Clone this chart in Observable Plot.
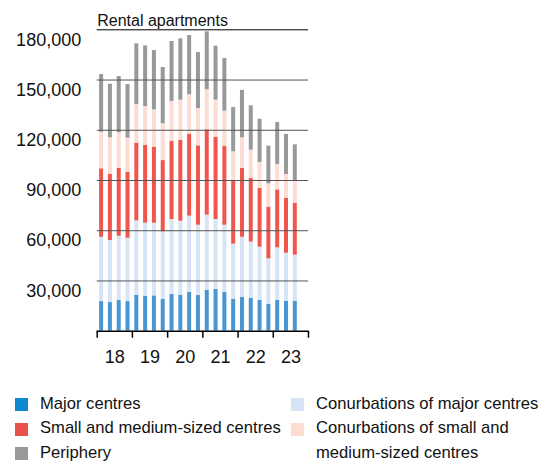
<!DOCTYPE html>
<html><head><meta charset="utf-8">
<script src="https://cdn.jsdelivr.net/npm/d3@7"></script>
<script src="https://cdn.jsdelivr.net/npm/@observablehq/plot@0.6"></script>
<style>
body{margin:0;background:#fff;font-family:"Liberation Sans",Arial,sans-serif;}
#wrap{position:relative;width:546px;height:464px;overflow:hidden;}
#legend{position:absolute;left:0;top:391.5px;width:546px;height:72px;font-size:16.6px;color:#111;}
.item{position:absolute;display:flex;align-items:flex-start;line-height:24.7px;white-space:nowrap;}
.sw{width:13px;height:13px;margin-top:6.5px;flex:none;}
.lbl{margin-left:12px;}
</style></head><body><div id="wrap"><div id="chart"></div><div id="legend"></div></div>
<script>
const quarters = ["2018 Q1","2018 Q2","2018 Q3","2018 Q4","2019 Q1","2019 Q2","2019 Q3","2019 Q4","2020 Q1","2020 Q2","2020 Q3","2020 Q4","2021 Q1","2021 Q2","2021 Q3","2021 Q4","2022 Q1","2022 Q2","2022 Q3","2022 Q4","2023 Q1","2023 Q2","2023 Q3"];
const seriesNames = ["Major centres","Conurbations of major centres","Small and medium-sized centres","Conurbations of small and medium-sized centres","Periphery"];
const majorCentres = [17700,17100,18300,17700,21500,20700,21100,19100,21900,21500,23300,21300,24500,24900,23100,19100,20300,19700,18500,16100,18500,17900,17900];
const conurbMajor = [38400,37100,38400,37800,44400,43800,43400,40300,44800,44200,45400,42000,44800,41800,40200,32900,35800,33500,31700,27100,31300,28700,27500];
const smallMedium = [40900,39600,40500,39300,46400,46400,45400,42500,46800,48400,49000,47400,51000,49200,47200,38000,41100,38200,35200,30900,34600,32800,31000];
const conurbSmall = [21800,21700,21300,20500,23100,23300,22300,22000,23700,23900,23500,22300,23900,22100,20900,17100,18300,16700,15400,13900,15200,14200,13600];
const periphery = [34500,32000,33600,32000,36200,36200,35400,33600,35800,36600,35400,33400,34600,32200,31500,26500,28300,26500,25800,22500,25000,23900,21300];
const barColors = ["#4a96d3","#d6e4f5","#f0564e","#fddcd3","#999999"];
const legendColors = ["#0e88cf","#d6e4f5","#e8524a","#fddcd3","#999999"];
const yTicks = [30000,60000,90000,120000,150000,180000];
const years = [2018,2019,2020,2021,2022,2023,2024];
const yearLabels = ["18","19","20","21","22","23"];
const title = "Rental apartments";

const seriesValues = [majorCentres, conurbMajor, smallMedium, conurbSmall, periphery];
const data = [];
quarters.forEach((q, i) => {
  const [yr, qq] = q.split(" Q").map(Number);
  const t = yr + (qq - 1) / 4;
  seriesNames.forEach((s, j) => data.push({t, series: s, value: seriesValues[j][i]}));
});
const labelData = yearLabels.map((l, i) => ({x: years[i] + 0.5, label: l}));

const chart = Plot.plot({
  width: 546, height: 380,
  marginLeft: 96.7, marginRight: 238, marginTop: 29.3, marginBottom: 49.3,
  style: {fontFamily: '"Liberation Sans", Arial, sans-serif', fontSize: "18px", color: "#111", background: "#fff"},
  x: {domain: [2018, 2024], axis: null},
  y: {domain: [0, 180000], axis: null},
  color: {domain: seriesNames, range: barColors},
  marks: [
    Plot.rectY(data, Plot.stackY({x: "t", interval: 0.25, y: "value", fill: "series", order: seriesNames, insetLeft: 2.4, insetRight: 2.4})),
    Plot.ruleY(yTicks.slice(0, 5), {stroke: "#555", strokeWidth: 1}),
    Plot.ruleY([yTicks[5]], {stroke: "#000", strokeWidth: 1}),
    Plot.ruleY([0], {stroke: "#000", strokeWidth: 1.5}),
    Plot.axisY({ticks: yTicks, tickSize: 0, tickPadding: 16, dy: 10, tickFormat: d3.format(","), label: null, fontSize: 18, fill: "#111"}),
    Plot.axisX({ticks: years, tickSize: 7, tickFormat: () => "", stroke: "#000", strokeWidth: 1.5, label: null}),
    Plot.text(labelData, {x: "x", text: "label", frameAnchor: "bottom", dy: 32, fontSize: 18, fill: "#111"}),
    Plot.text([title], {frameAnchor: "top-left", textAnchor: "start", lineAnchor: "bottom", dy: -4, fontSize: 16, fill: "#111"})
  ]
});
document.getElementById("chart").appendChild(chart);

const legend = document.getElementById("legend");
const positions = [[15,0],[291,0],[15,24.7],[291,24.7],[15,49.4]];
const texts = ["Major centres","Conurbations of major centres","Small and medium-sized centres","Conurbations of small and<br>medium-sized centres","Periphery"];
seriesNames.forEach((s, i) => {
  const d = document.createElement("div");
  d.className = "item";
  d.style.left = positions[i][0] + "px";
  d.style.top = positions[i][1] + "px";
  d.innerHTML = `<div class="sw" style="background:${legendColors[i]}"></div><div class="lbl">${texts[i]}</div>`;
  legend.appendChild(d);
});
</script></body></html>
